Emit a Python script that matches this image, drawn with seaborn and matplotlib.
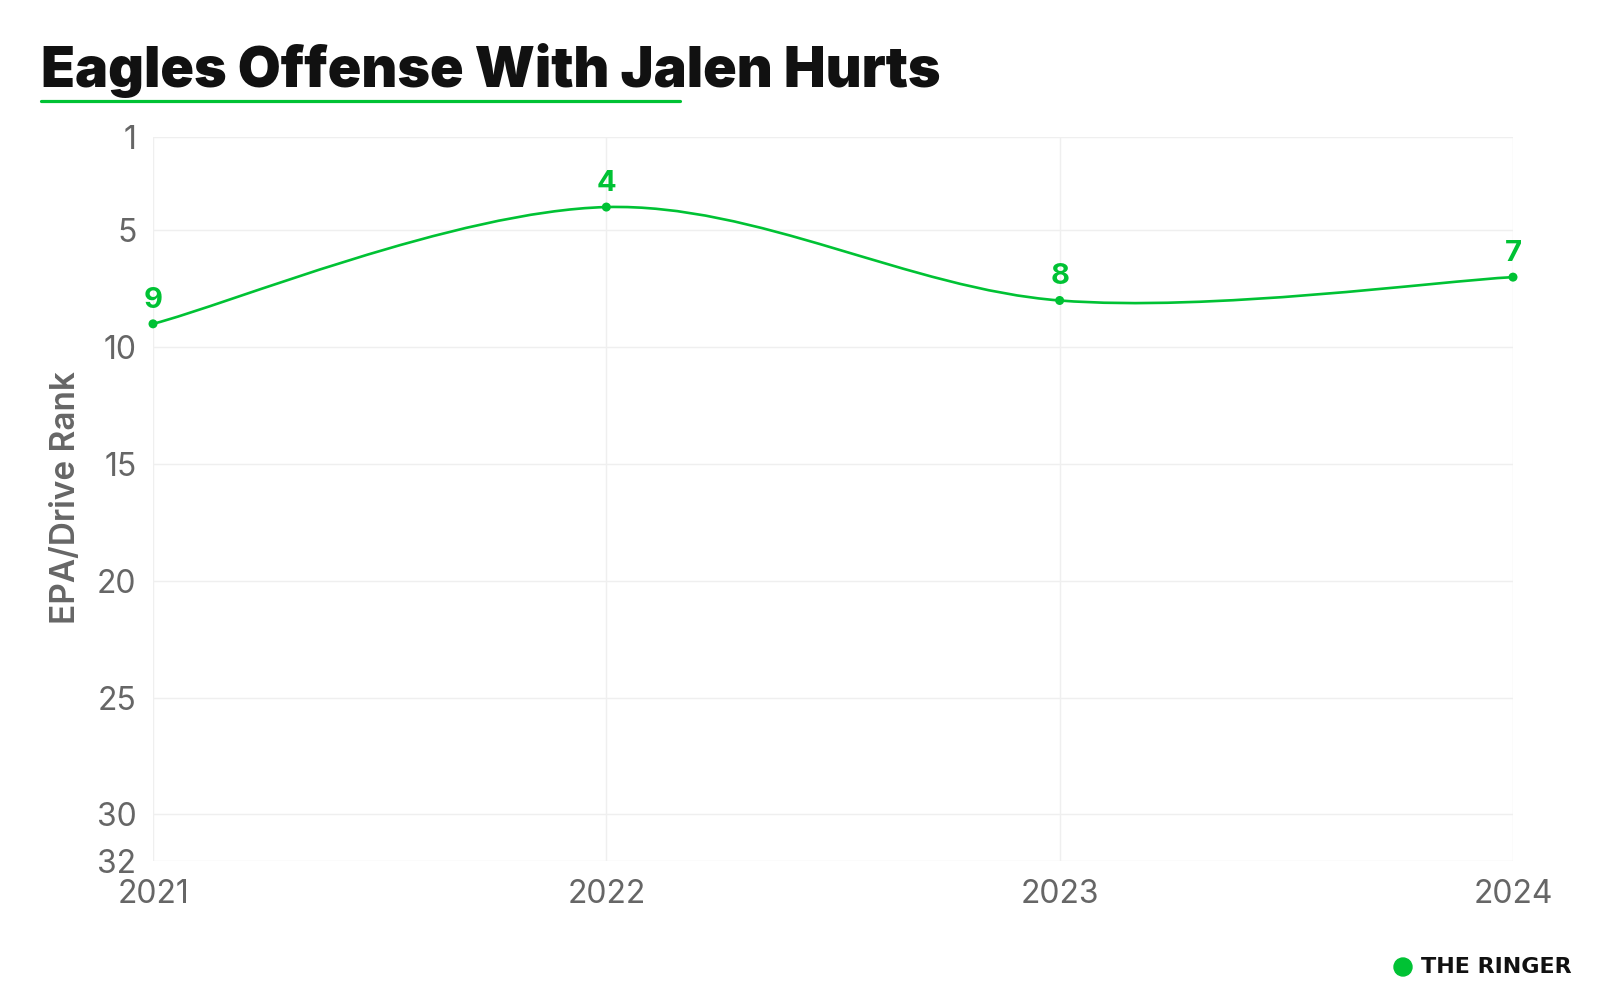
import matplotlib
matplotlib.use('Agg')
import matplotlib.pyplot as plt
from matplotlib.path import Path
from matplotlib.patches import PathPatch, Ellipse
from matplotlib.lines import Line2D
import seaborn as sns

# data
seasons = [2021, 2022, 2023, 2024]
epa_rank = [9, 4, 8, 7]
y_ticks = [1, 5, 10, 15, 20, 25, 30, 32]
title = 'Eagles Offense With Jalen Hurts'
y_label = 'EPA/Drive Rank'

GREEN = '#00c234'
GRID = '#efefef'
GRAY = '#666666'
INK = '#111111'

sns.set_theme(style='white')
plt.rcParams['font.family'] = ['Inter', 'DejaVu Sans']


def cardinal_path(xs, ys):
    # smooth curve through the points (cardinal spline, tension 0)
    pts = list(zip(xs, ys))
    n = len(pts)
    verts = [pts[0]]
    codes = [Path.MOVETO]
    for i in range(n - 1):
        p0 = pts[max(i - 1, 0)]
        p1 = pts[i]
        p2 = pts[i + 1]
        p3 = pts[min(i + 2, n - 1)]
        c1 = (p1[0] + (p2[0] - p0[0]) / 6, p1[1] + (p2[1] - p0[1]) / 6)
        c2 = (p2[0] - (p3[0] - p1[0]) / 6, p2[1] - (p3[1] - p1[1]) / 6)
        verts += [c1, c2, p2]
        codes += [Path.CURVE4] * 3
    return Path(verts, codes)


def main():
    fig = plt.figure(figsize=(16, 10), dpi=100)
    ax = fig.add_axes([153 / 1600, 0.139, 1360 / 1600, 0.724])

    ax.add_patch(PathPatch(cardinal_path(seasons, epa_rank), facecolor='none',
                           edgecolor=GREEN, linewidth=1.9, clip_on=False, zorder=3))
    sns.scatterplot(x=seasons, y=epa_rank, ax=ax, color=GREEN, s=42,
                    edgecolor='none', clip_on=False, zorder=4, legend=False)

    for x, y in zip(seasons, epa_rank):
        ax.annotate(str(y), (x, y), xytext=(0, 17), textcoords='offset points',
                    ha='center', va='center', fontsize=21, fontweight='bold',
                    color=GREEN, zorder=5)

    ax.set_xlim(seasons[0], seasons[-1])
    ax.set_ylim(32, 1)
    ax.set_xticks(seasons)
    ax.set_yticks(y_ticks)
    ax.grid(True, color=GRID, linewidth=1)
    for s in ax.spines.values():
        s.set_visible(False)
    ax.tick_params(axis='both', length=5, width=1, color=GRID,
                   labelcolor=GRAY, labelsize=23)
    ax.tick_params(axis='x', pad=8)
    ax.tick_params(axis='y', pad=7)
    ax.set_ylabel(y_label, fontsize=24, fontweight=600, color=GRAY)
    ax.yaxis.set_label_coords(-0.052, 0.502)

    fig.text(41 / 1600, 0.913, title, fontsize=40, fontweight='black',
             color=INK, ha='left', va='baseline')
    fig.add_artist(Line2D([41 / 1600, 680 / 1600], [0.899, 0.899],
                          color=GREEN, linewidth=2.3))

    # brand mark
    fig.add_artist(Ellipse((1403 / 1600, 0.033), 18 / 1600, 18 / 1000,
                           color=GREEN, transform=fig.transFigure))
    fig.text(1421 / 1600, 0.033, 'THE RINGER', fontsize=16, fontweight='bold',
             family='DejaVu Sans', color=INK, ha='left', va='center')

    fig.savefig('out.png', dpi=100, facecolor='white')


if __name__ == '__main__':
    main()
